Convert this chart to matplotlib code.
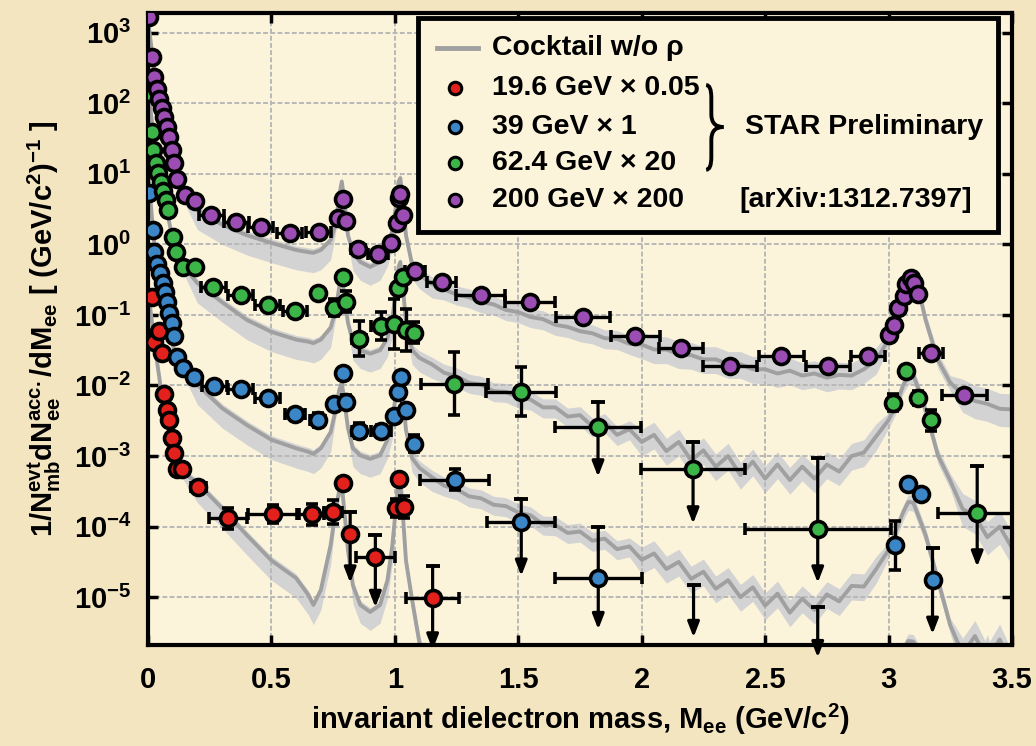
import numpy as np
import matplotlib
matplotlib.use('Agg')
import matplotlib.pyplot as plt
from matplotlib.path import Path
from matplotlib.patches import PathPatch, Rectangle
from matplotlib.ticker import NullLocator, FixedLocator

plt.rcParams['font.family'] = ['Liberation Sans', 'DejaVu Sans']
plt.rcParams['font.weight'] = 'bold'
plt.rcParams['axes.labelweight'] = 'bold'
plt.rcParams['mathtext.fontset'] = 'custom'
plt.rcParams['mathtext.rm'] = 'Liberation Sans:bold'
plt.rcParams['mathtext.it'] = 'Liberation Sans:italic:bold'
plt.rcParams['mathtext.bf'] = 'Liberation Sans:bold'
plt.rcParams['mathtext.default'] = 'rm'

# ---- cocktail (w/o rho), log10 values on a common mass grid ----
mass_grid = [0.0, 0.01, 0.02, 0.03, 0.05, 0.08, 0.1, 0.13, 0.2, 0.3, 0.4, 0.5, 0.6, 0.65, 0.67,
             0.7, 0.74, 0.76, 0.775, 0.785, 0.795, 0.81, 0.83, 0.86, 0.9, 0.94, 0.97, 0.99,
             1.005, 1.015, 1.022, 1.03, 1.045, 1.07,
             1.1, 1.15, 1.2, 1.25, 1.3, 1.35, 1.4, 1.45, 1.5, 1.55, 1.6, 1.65, 1.7, 1.75, 1.8,
             1.85, 1.9, 1.95, 2.0, 2.05, 2.1, 2.15, 2.2, 2.25, 2.3, 2.35, 2.4, 2.45, 2.5, 2.55,
             2.6, 2.65, 2.7, 2.75, 2.8, 2.85, 2.9, 2.95,
             3.0, 3.03, 3.06, 3.08, 3.1, 3.12, 3.15, 3.2, 3.25, 3.3, 3.35, 3.4, 3.45, 3.5]

cocktail_200 = [3.18, 2.9, 2.62, 2.4, 2.05, 1.48, 1.13, 0.77, 0.49, 0.28, 0.13, 0.02, -0.08, -0.11, -0.12,
                -0.08, 0.06, 0.28, 0.7, 0.89, 0.63, 0.13, -0.11, -0.25, -0.32, -0.25, -0.05, 0.2,
                0.56, 0.89, 0.94, 0.7, 0.13, -0.29,
                -0.43, -0.56, -0.64, -0.71, -0.75, -0.82, -0.85, -0.93, -0.96, -1.03, -1.06, -1.14,
                -1.17, -1.23, -1.26, -1.33, -1.34, -1.41, -1.42, -1.49, -1.49, -1.56, -1.57, -1.63,
                -1.63, -1.70, -1.70, -1.77, -1.77, -1.83, -1.79, -1.86, -1.83, -1.89, -1.85, -1.86,
                -1.77, -1.64,
                -1.35, -1.04, -0.67, -0.48, -0.43, -0.62, -1.07, -1.64, -1.96, -2.13, -2.22, -2.26,
                -2.33, -2.34]

cocktail_62 = [2.26, 1.91, 1.62, 1.34, 0.91, 0.42, 0.06, -0.25, -0.55, -0.82, -1.07, -1.24, -1.35, -1.38,
               -1.40, -1.35, -1.18, -0.93, -0.6, -0.43, -0.72, -1.11, -1.38, -1.5, -1.55, -1.5, -1.33,
               -1.04, -0.65, -0.32, -0.25, -0.5, -1.1, -1.5,
               -1.61, -1.70, -1.82, -1.87, -1.96, -1.99, -2.08, -2.09, -2.17, -2.20, -2.31, -2.31,
               -2.44, -2.42, -2.58, -2.52, -2.70, -2.62, -2.80, -2.70, -2.93, -2.80, -3.06, -2.92,
               -3.15, -3.00, -3.27, -3.08, -3.32, -3.12, -3.34, -3.15, -3.32, -3.12, -3.22, -3.00,
               -2.95, -2.72,
               -2.49, -2.28, -1.99, -1.87, -1.85, -2.04, -2.35, -2.99, -3.35, -3.75, -3.85, -4.15,
               -4.0, -4.3]

cocktail_39 = [1.06, 0.63, 0.21, -0.15, -0.65, -1.14, -1.43, -1.71, -1.99, -2.32, -2.56, -2.77, -2.89,
               -2.94, -2.97, -2.89, -2.66, -2.35, -2.06, -1.96, -2.21, -2.6, -2.89, -2.99, -3.04, -2.99,
               -2.77, -2.49, -2.11, -1.85, -1.81, -2.06, -2.63, -3.03,
               -3.17, -3.30, -3.42, -3.47, -3.57, -3.60, -3.69, -3.71, -3.80, -3.84, -3.97, -3.98,
               -4.09, -4.07, -4.20, -4.17, -4.32, -4.28, -4.47, -4.38, -4.60, -4.50, -4.74, -4.64,
               -4.88, -4.76, -5.00, -4.86, -5.12, -4.95, -5.22, -5.02, -5.18, -4.96, -5.06, -4.84,
               -4.85, -4.60,
               -4.33, -4.05, -3.79, -3.65, -3.66, -3.84, -4.12, -4.76, -5.4, -5.8, -5.55, -5.9,
               -5.6, -6.0]

cocktail_19 = [-0.65, -0.93, -1.21, -1.5, -1.99, -2.56, -2.99, -3.2, -3.38, -3.74, -4.12, -4.48, -4.73,
               -4.97, -5.11, -4.9, -4.26, -3.77, -3.48, -3.41, -3.77, -4.33, -4.83, -5.11, -5.21,
               -5.11, -4.76, -4.26, -3.7, -3.34, -3.31, -3.7, -4.48, -5.04,
               -5.65, -6.2] + [-6.5] * 36 + \
              [-6.3, -6.0, -5.75, -5.62, -5.63, -5.75, -6.1, -6.5, -6.5, -5.8, -6.2, -5.75, -6.3, -5.9]

# systematic band of the cocktail, in decades below / above the line
band_lo = [0.06] * 8 + [0.28] * 9 + [0.12] * 5 + [0.26] * 6 + [0.1] * 5 + [0.2] + \
          [0.2] * 2 + [0.15] * 16 + [0.2] * 20 + [0.12] * 9 + [0.25] * 5
band_hi = [0.04] * 8 + [0.06] * 25 + [0.08] + \
          [0.1] * 2 + [0.12] * 16 + [0.18] * 20 + [0.1] * 9 + [0.22] * 5

# ---- STAR data points ----
# 19.6 GeV x 0.05
x_19 = [0.016, 0.024, 0.045, 0.057, 0.065, 0.077, 0.086, 0.098, 0.106, 0.118, 0.138, 0.204, 0.326,
        0.505, 0.663, 0.749, 0.79, 0.819, 0.921, 1.006, 1.018, 1.038, 1.153]
y_19 = [0.18, 0.041, 0.059, 0.029, 7.6e-3, 4.5e-3, 3.2e-3, 1.8e-3, 1.1e-3, 6.5e-4, 6.5e-4, 3.6e-4,
        1.32e-4, 1.5e-4, 1.5e-4, 1.6e-4, 4.1e-4, 7.8e-5, 3.7e-5, 1.83e-4, 4.7e-4, 1.9e-4, 9.7e-6]
xerr_19 = [0] * 11 + [0.03, 0.077, 0.1, 0.05, 0.035, 0, 0, 0.078, 0, 0, 0, 0.107]
yerr_19 = [0] * 12 + [0.15, 0.13, 0.15, 0.17, 0.08, 0, 0, 0.13, 0, 0.15, 0]
ul_x_19 = [0.819, 0.921, 1.153]
ul_top_19 = [1.6e-4, 7.6e-5, 2.8e-5]
ul_tip_19 = [1.6e-5, 7.2e-6, 1.8e-6]

# 39 GeV x 1
x_39 = [0.004, 0.02, 0.024, 0.037, 0.049, 0.061, 0.069, 0.077, 0.086, 0.098, 0.106, 0.118, 0.143,
        0.187, 0.269, 0.375, 0.485, 0.595, 0.688, 0.754, 0.79, 0.802, 0.855, 0.945, 0.998, 1.014,
        1.026, 1.047, 1.079, 1.242, 1.512, 1.824, 3.027, 3.08, 3.132, 3.178]
y_39 = [5.4, 1.6, 0.78, 0.53, 0.39, 0.28, 0.21, 0.153, 0.107, 0.077, 0.05, 0.025, 0.0177, 0.0132,
        0.0098, 0.0089, 0.0067, 0.0039, 0.0032, 0.0055, 0.015, 0.0058, 0.0023, 0.0023, 0.0037,
        0.0081, 0.0132, 0.0045, 0.0015, 4.6e-4, 1.15e-4, 1.9e-5, 5.4e-5, 4.0e-4, 2.9e-4, 1.73e-5]
xerr_39 = [0] * 14 + [0.05, 0.05, 0.05, 0.04, 0.03, 0, 0, 0, 0.03, 0.04, 0, 0, 0, 0, 0,
                      0.14, 0.137, 0.176, 0, 0, 0, 0]
yerr_39 = [0] * 18 + [0.1, 0, 0, 0.1, 0.1, 0.08, 0, 0, 0, 0.08, 0.12, 0.15, 0, 0, 0.35, 0, 0, 0]
ul_x_39 = [1.512, 1.824, 2.21, 2.713, 3.178]
ul_top_39 = [2.5e-4, 9.8e-5, 1.48e-5, 7.2e-6, 4.9e-5]
ul_tip_39 = [2.0e-5, 3.5e-6, 2.7e-6, 1.4e-6, 3.0e-6]

# 62.4 GeV x 20
x_62 = [0.0, 0.016, 0.02, 0.033, 0.041, 0.053, 0.061, 0.073, 0.081, 0.1, 0.114, 0.143, 0.191, 0.265,
        0.375, 0.485, 0.595, 0.688, 0.754, 0.79, 0.802, 0.855, 0.945, 0.998, 1.014, 1.035, 1.047,
        1.079, 1.241, 1.511, 1.823, 2.208, 2.713, 3.016, 3.069, 3.121, 3.172, 3.359]
y_62 = [141, 39, 22, 14, 10.3, 7.7, 5.7, 4.3, 3.1, 1.28, 0.78, 0.48, 0.48, 0.25, 0.19, 0.139, 0.114,
        0.205, 0.126, 0.35, 0.153, 0.046, 0.07, 0.074, 0.24, 0.35, 0.061, 0.056, 0.0106, 0.0082,
        0.0026, 6.5e-4, 9.3e-5, 5.7e-3, 0.0163, 6.6e-3, 3.2e-3, 1.55e-4]
xerr_62 = [0] * 13 + [0.05, 0.05, 0.05, 0.05, 0, 0, 0, 0, 0.03, 0.04, 0, 0, 0, 0, 0,
                      0.135, 0.14, 0.175, 0.21, 0.295, 0, 0, 0, 0, 0.16]
yerr_62 = [0] * 17 + [0, 0.12, 0, 0.15, 0.25, 0.2, 0.35, 0, 0, 0.3, 0.15, 0.45, 0.35, 0, 0, 0,
                      0.12, 0, 0.1, 0.15, 0]
ul_x_62 = [1.823, 2.208, 2.713, 3.359]
ul_top_62 = [5.8e-3, 1.6e-3, 9.3e-4, 7.2e-4]
ul_tip_62 = [5.1e-4, 1.1e-4, 1.6e-5, 2.7e-5]

# 200 GeV x 200
x_200 = [0.004, 0.016, 0.024, 0.037, 0.045, 0.057, 0.065, 0.077, 0.086, 0.098, 0.106, 0.118, 0.151,
         0.191, 0.257, 0.358, 0.456, 0.574, 0.692, 0.77, 0.79, 0.802, 0.851, 0.933, 0.986, 1.01,
         1.015, 1.022, 1.035,
         1.082, 1.189, 1.348, 1.548, 1.761, 1.974, 2.159, 2.359, 2.566, 2.754, 2.916, 3.0, 3.023,
         3.039, 3.061, 3.072, 3.089, 3.102, 3.118, 3.172, 3.307]
y_200 = [1690, 457, 238, 161, 116, 86, 64, 46, 33, 22, 14, 8.5, 5.0, 4.1, 2.6, 2.08, 1.77, 1.46, 1.5,
         2.4, 4.4, 2.15, 0.86, 0.73, 1.05, 2.0, 4.6, 5.2, 2.6,
         0.42, 0.29, 0.19, 0.15, 0.093, 0.051, 0.034, 0.019, 0.026, 0.0186, 0.026, 0.052, 0.073,
         0.126, 0.184, 0.27, 0.336, 0.285, 0.195, 0.029, 0.0074]
xerr_200 = [0] * 14 + [0.05, 0.05, 0.05, 0.05, 0.05, 0, 0, 0, 0.03, 0.04, 0, 0, 0, 0, 0,
                       0.04, 0.06, 0.1, 0.1, 0.11, 0.1, 0.09, 0.11, 0.09, 0.09, 0.07,
                       0, 0, 0, 0, 0, 0, 0, 0, 0.05, 0.09]
yerr_200 = [0] * 37 + [0.08] + [0] * 12

series = [
    ('19.6 GeV \u00d7 0.05', '#e3211c', x_19, y_19, xerr_19, yerr_19, ul_x_19, ul_top_19, ul_tip_19),
    ('39 GeV \u00d7 1', '#3b86c6', x_39, y_39, xerr_39, yerr_39, ul_x_39, ul_top_39, ul_tip_39),
    ('62.4 GeV \u00d7 20', '#3cb548', x_62, y_62, xerr_62, yerr_62, ul_x_62, ul_top_62, ul_tip_62),
    ('200 GeV \u00d7 200', '#9b4db3', x_200, y_200, xerr_200, yerr_200, [], [], []),
]

fig = plt.figure(figsize=(10.36, 7.46), dpi=100)
fig.patch.set_facecolor('#f3e5c0')
ax = fig.add_axes([148 / 1036, 1 - 645 / 746, 864 / 1036, 632 / 746])
ax.set_facecolor('#fcf4da')

mg = np.array(mass_grid)
lo = np.array(band_lo)
hi = np.array(band_hi)
for curve in [cocktail_19, cocktail_39, cocktail_62, cocktail_200]:
    c = np.array(curve)
    ax.fill_between(mg, 10 ** (c - lo), 10 ** (c + hi), color='#d3d3d3', lw=0, zorder=1)
for curve in [cocktail_19, cocktail_39, cocktail_62, cocktail_200]:
    ax.plot(mg, 10 ** np.array(curve), color='#a0a0a0', lw=2.8, zorder=2)

for label, color, x, y, xe, ye, ulx, ultop, ultip in series:
    x = np.array(x)
    y = np.array(y)
    xe = np.array(xe, dtype=float)
    ye = np.array(ye, dtype=float)
    xe[xe == 0] = np.nan
    ylo = y - y * 10 ** (-ye)
    yhi = y * 10 ** ye - y
    ylo[ye == 0] = np.nan
    yhi[ye == 0] = np.nan
    for ux, ut, utip in zip(ulx, ultop, ultip):
        ax.annotate('', xy=(ux, utip), xytext=(ux, ut),
                    arrowprops=dict(arrowstyle='-|>,head_length=0.9,head_width=0.35',
                                    color='k', lw=2.3, shrinkA=0, shrinkB=0),
                    annotation_clip=False, zorder=4)
        ax.plot([ux], [ut], marker='_', ms=10, mew=2.8, color='k', zorder=4, clip_on=False)
    ax.errorbar(x, y, xerr=xe, yerr=[ylo, yhi], fmt='none', ecolor='k', elinewidth=2.4,
                capsize=4.5, capthick=2.6, zorder=4)
    ax.plot(x, y, 'o', ms=11.5, mfc=color, mec='k', mew=2.6, zorder=5)

ax.set_yscale('log')
ax.set_xlim(0, 3.5)
ax.set_ylim(2.1e-6, 1.9e3)
ax.xaxis.set_major_locator(FixedLocator([0, 0.5, 1, 1.5, 2, 2.5, 3, 3.5]))
ax.set_xticklabels(['0', '0.5', '1', '1.5', '2', '2.5', '3', '3.5'])
ax.yaxis.set_major_locator(FixedLocator([10.0 ** k for k in range(-5, 4)]))
ax.set_yticklabels([r'$10^{%d}$' % k for k in range(-5, 4)])
ax.yaxis.set_minor_locator(NullLocator())
ax.tick_params(which='major', direction='in', length=7, width=2.5, top=True, right=True,
               labelsize=21)
ax.tick_params(axis='x', pad=15)
ax.tick_params(axis='y', pad=12)
ax.grid(True, color='#b8b8b8', lw=1.4, ls=(0, (2.5, 1.2)), zorder=0)
for sp in ax.spines.values():
    sp.set_linewidth(3)

ax.set_xlabel(r'invariant dielectron mass, M$_{\rm ee}$ (GeV/c$^2$)', fontsize=21, labelpad=6)
ax.set_ylabel(r'1/N$_{\rm mb}^{\rm evt}$dN$_{\rm ee}^{\rm acc.}$/dM$_{\rm ee}$ [ (GeV/c$^{2}$)$^{-1}$ ]',
              fontsize=21, labelpad=8)

# legend box drawn by hand
ax.add_patch(Rectangle((0.3125, 0.6535), 0.6713, 0.3385, transform=ax.transAxes, fill=True,
                       facecolor='#fcf4da', edgecolor='k', lw=3.5, zorder=8))
rows = [0.9446, 0.8813, 0.8196, 0.7627, 0.7041]
ax.plot([0.3345, 0.3819], [rows[0], rows[0]], color='#a0a0a0', lw=3.5, transform=ax.transAxes,
        zorder=9)
ax.text(0.398, rows[0], 'Cocktail w/o \u03c1', transform=ax.transAxes, fontsize=20.5,
        va='center', zorder=9)
for row, (label, color, *_rest) in zip(rows[1:], series):
    ax.plot([0.3553], [row], 'o', ms=9, mfc=color, mec='k', mew=2.2, transform=ax.transAxes,
            zorder=9)
    ax.text(0.398, row, label, transform=ax.transAxes, fontsize=20.5, va='center', zorder=9)

# curly brace joining the four energies
bx, tip, top, bot, mid = 0.652, 0.666, 0.886, 0.752, 0.8196
verts = [(bx - 0.006, top), (bx, top), (bx, top - 0.02), (bx, mid + 0.02), (bx, mid), (tip, mid),
         (bx, mid), (bx, mid - 0.02), (bx, bot + 0.02), (bx, bot), (bx - 0.006, bot)]
codes = [Path.MOVETO, Path.CURVE3, Path.CURVE3, Path.LINETO, Path.CURVE3, Path.CURVE3,
         Path.CURVE3, Path.CURVE3, Path.LINETO, Path.CURVE3, Path.CURVE3]
ax.add_patch(PathPatch(Path(verts, codes), fill=False, lw=2.8, ec='k', transform=ax.transAxes,
                       zorder=9))
ax.text(0.691, rows[2], 'STAR Preliminary', transform=ax.transAxes, fontsize=20.5, va='center',
        zorder=9)
ax.text(0.685, rows[4], '[arXiv:1312.7397]', transform=ax.transAxes, fontsize=20.5, va='center',
        zorder=9)

fig.savefig('out.png', dpi=100, facecolor=fig.get_facecolor())
